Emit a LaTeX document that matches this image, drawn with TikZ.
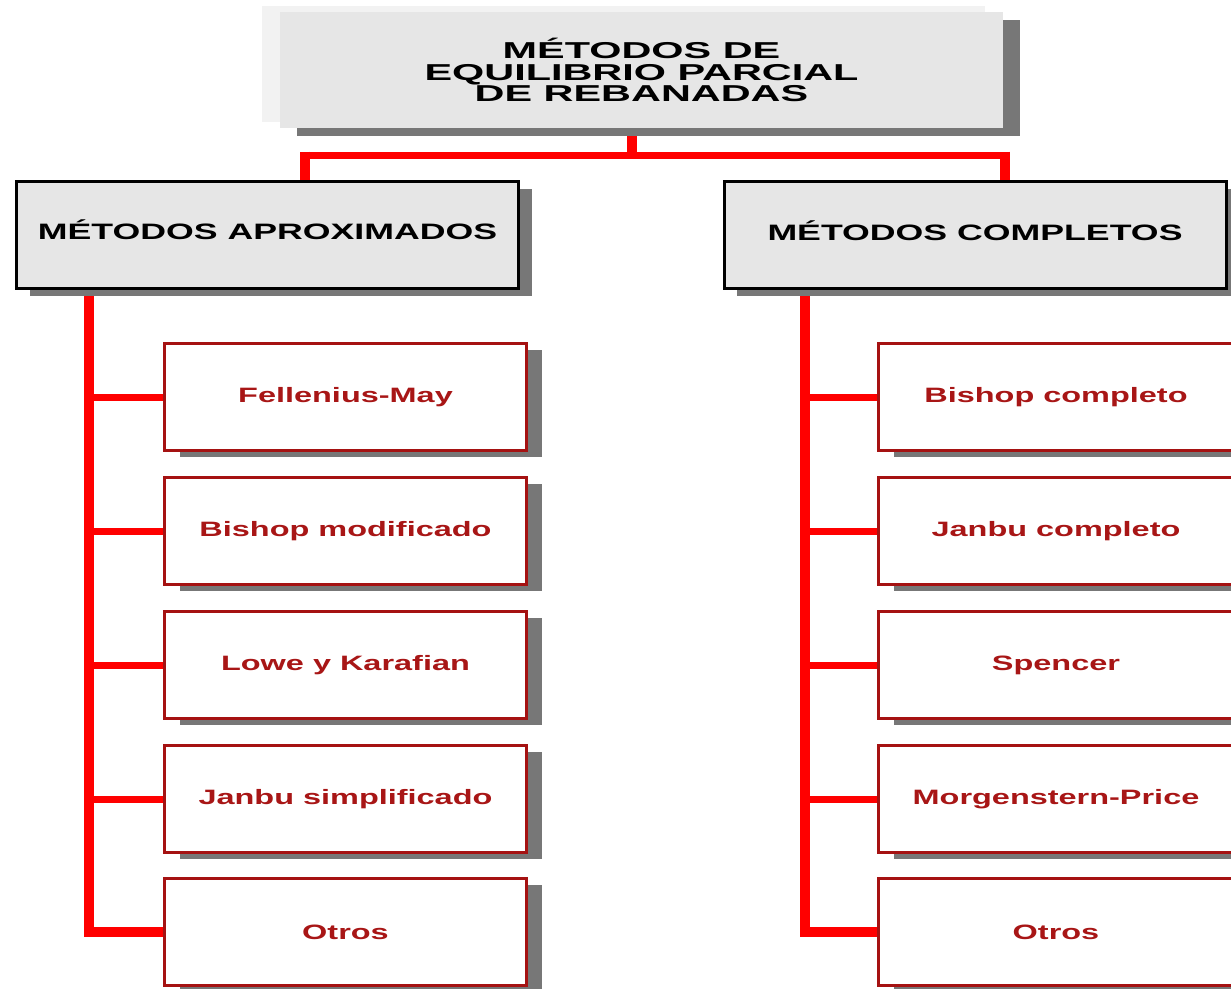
\documentclass[tikz,border=0pt]{standalone}
\usepackage{fontspec}
\setmainfont{Liberation Sans}
% wide bold faces for the three text levels
\newfontfamily\titlefont[FakeStretch=1.8]{Liberation Sans}
\newfontfamily\headfont[FakeStretch=1.6]{Liberation Sans}
\newfontfamily\itemfont[FakeStretch=1.56]{Liberation Sans}
\usetikzlibrary{shadows,backgrounds}

\definecolor{linkred}{RGB}{255,0,0}
\definecolor{itemred}{RGB}{168,22,22}
\definecolor{framered}{RGB}{165,18,18}
\definecolor{boxgray}{RGB}{230,230,230}
\definecolor{palegray}{RGB}{242,242,242}
\definecolor{shadegray}{RGB}{119,119,119}

\tikzset{
  glowbox/.style={rectangle, fill=palegray, inner sep=0pt,
    minimum width=723pt, minimum height=116pt},
  titlebox/.style={rectangle, fill=boxgray, inner sep=0pt,
    minimum width=723pt, minimum height=116pt, align=center,
    font=\titlefont\bfseries\fontsize{23}{21.5}\selectfont,
    drop shadow={shadow xshift=17pt, shadow yshift=-8pt, fill=shadegray, opacity=1}},
  headbox/.style={rectangle, fill=boxgray, draw=black, line width=3pt, inner sep=0pt,
    minimum width=502pt, minimum height=107pt,
    font=\headfont\bfseries\fontsize{22.3}{26}\selectfont,
    drop shadow={shadow xshift=13pt, shadow yshift=-7pt, fill=shadegray, opacity=1}},
  itembox/.style={rectangle, fill=white, draw=framered, line width=3.5pt, inner sep=0pt,
    minimum height=107pt, text=itemred,
    font=\itemfont\bfseries\fontsize{20.8}{24}\selectfont,
    drop shadow={shadow xshift=15pt, shadow yshift=-6pt, fill=shadegray, opacity=1}},
  leftitem/.style={itembox, minimum width=362pt},
  rightitem/.style={itembox, minimum width=355pt},
  barline/.style={draw=linkred, line width=7pt},
  riserline/.style={draw=linkred, line width=10pt},
  trunkline/.style={draw=linkred, line width=10pt, miter limit=10},
  branchline/.style={draw=linkred, line width=7pt},
}

\begin{document}
\begin{tikzpicture}[x=1pt, y=-1pt]
  \clip (0,0) rectangle (1231,988);

  % root
  \node[glowbox] (glow) at (623.5,64) {};
  \node[titlebox] (title) at (641.5,70) {MÉTODOS DE\\EQUILIBRIO PARCIAL\\DE REBANADAS};

  % the two families
  \node[headbox] (lhead) at (267.5,235) {\raisebox{10pt}{MÉTODOS APROXIMADOS}};
  \node[headbox] (rhead) at (975,235) {\raisebox{8pt}{MÉTODOS COMPLETOS}};

  % approximate methods
  \node[leftitem] (l1) at (345.5,397) {Fellenius-May};
  \node[leftitem] (l2) at (345.5,531) {Bishop modificado};
  \node[leftitem] (l3) at (345.5,665) {Lowe y Karafian};
  \node[leftitem] (l4) at (345.5,799) {Janbu simplificado};
  \node[leftitem] (l5) at (345.5,932) {Otros};

  % complete methods
  \node[rightitem] (r1) at (1056,397) {Bishop completo};
  \node[rightitem] (r2) at (1056,531) {Janbu completo};
  \node[rightitem] (r3) at (1056,665) {Spencer};
  \node[rightitem] (r4) at (1056,799) {Morgenstern-Price};
  \node[rightitem] (r5) at (1056,932) {Otros};

  % red connectors, kept behind boxes and shadows
  \coordinate (hub) at (632,155);
  \coordinate (barL) at (305,155);
  \coordinate (barR) at (1005,155);
  \coordinate (lspine) at (89,0);
  \coordinate (rspine) at (805,0);
  \coordinate (barLend) at (300,155);
  \coordinate (barRend) at (1010,155);

  \begin{scope}[on background layer]
    \fill[white] (0,0) rectangle (1231,988);
    \draw[riserline] (title.south -| hub) -- (hub);
    \draw[barline] (barLend) -- (barRend);
    \draw[riserline] ([yshift=3.5pt]barL) -- (lhead.north -| barL);
    \draw[riserline] ([yshift=3.5pt]barR) -- (rhead.north -| barR);

    \draw[trunkline] (lhead.south -| lspine) -- (l5.west -| lspine) -- (l5.west);
    \foreach \n in {l1,l2,l3,l4}
      \draw[branchline] (\n.west -| lspine) -- (\n.west);

    \draw[trunkline] (rhead.south -| rspine) -- (r5.west -| rspine) -- (r5.west);
    \foreach \n in {r1,r2,r3,r4}
      \draw[branchline] (\n.west -| rspine) -- (\n.west);
  \end{scope}
\end{tikzpicture}
\end{document}
